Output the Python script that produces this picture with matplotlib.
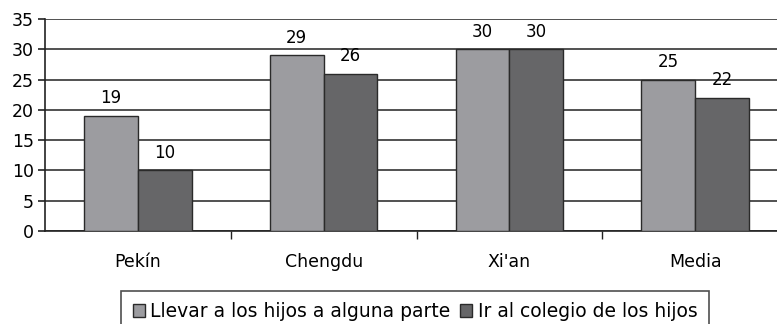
import numpy as np
import matplotlib
matplotlib.use('Agg')
import matplotlib.pyplot as plt
from matplotlib.patches import Patch

plt.rcParams['font.family'] = 'DejaVu Sans'
plt.rcParams['font.size'] = 12

categories = ['Pekín', 'Chengdu', "Xi'an", 'Media']
llevar = [19, 29, 30, 25]
colegio = [10, 26, 30, 22]
series_names = ['Llevar a los hijos a alguna parte', 'Ir al colegio de los hijos']
yticks = [0, 5, 10, 15, 20, 25, 30, 35]

lightColor = '#9c9ca0'
darkColor = '#666668'
edgeColor = '#2a2a2a'

fig = plt.figure(figsize=(7.77, 3.24), dpi=100)
ax = fig.add_axes([45/777, 93/324, 743/777, 212/324])

x = np.arange(len(categories))
w = 0.29
ax.bar(x - w/2, llevar, w, color=lightColor, edgecolor=edgeColor, linewidth=1, zorder=3)
ax.bar(x + w/2, colegio, w, color=darkColor, edgecolor=edgeColor, linewidth=1, zorder=3)

# value labels
for xi, v in zip(x - w/2, llevar):
    ax.text(xi, v + 1.4, str(v), ha='center', va='bottom', fontsize=12, zorder=4)
for xi, v in zip(x + w/2, colegio):
    ax.text(xi, v + 1.4, str(v), ha='center', va='bottom', fontsize=12, zorder=4)

ax.set_xlim(-0.5, 3.5)
ax.set_ylim(0, 35)
ax.set_yticks(yticks)
ax.yaxis.grid(True, color='#222222', linewidth=1.1, zorder=1)

ax.set_xticks(x)
ax.set_xticklabels(categories)
ax.set_xticks([0.5, 1.5, 2.5], minor=True)
ax.tick_params(axis='x', which='major', length=0, pad=16, labelsize=12.5)
ax.tick_params(axis='x', which='minor', length=6, width=1, color='#222222', direction='out')
ax.tick_params(axis='y', length=5, width=1.2, color='#222222', pad=3, labelsize=12.5)

for loc in ['top', 'right']:
    ax.spines[loc].set_visible(False)
ax.spines['left'].set_color('#222222')
ax.spines['bottom'].set_color('#222222')
ax.spines['left'].set_linewidth(1.2)
ax.spines['bottom'].set_linewidth(1.2)

handles = [Patch(facecolor=lightColor, edgecolor=edgeColor, label=series_names[0]),
           Patch(facecolor=darkColor, edgecolor=edgeColor, label=series_names[1])]
leg = fig.legend(handles=handles, loc='upper center', bbox_to_anchor=(415/777, 1 - 291/324),
                 ncol=2, frameon=True, fancybox=False, fontsize=13.5,
                 handlelength=0.65, handleheight=0.65, handletextpad=0.3, columnspacing=0.5,
                 borderpad=0.6, borderaxespad=0)
leg.get_frame().set_edgecolor('#222222')
leg.get_frame().set_linewidth(1.2)

fig.savefig('out.png', dpi=100, facecolor='white')
